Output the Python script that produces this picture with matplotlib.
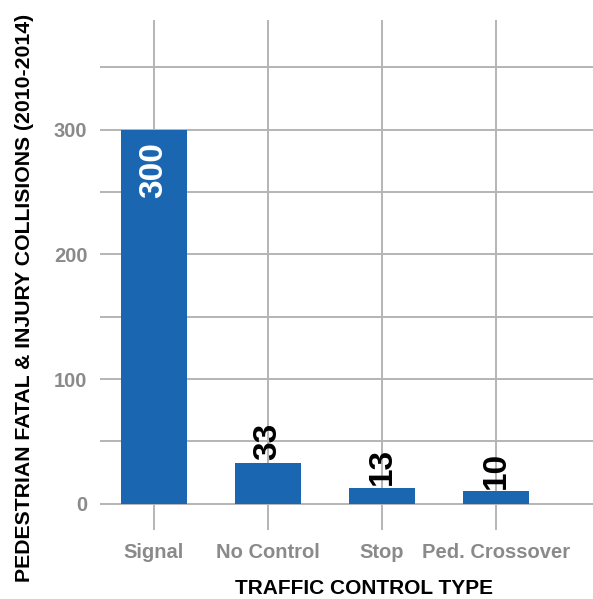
import matplotlib
matplotlib.use("Agg")
import matplotlib.pyplot as plt
import numpy as np

plt.rcParams['font.family'] = ['Liberation Sans', 'DejaVu Sans']

categories = ["Signal", "No Control", "Stop", "Ped. Crossover"]
collisions = [300, 33, 13, 10]
y_ticks = [0, 100, 200, 300]

BAR_COLOR = "#1a66b0"
GRID_COLOR = "#b4b4b4"
TICK_COLOR = "#8a8a8a"

fig = plt.figure(figsize=(5.93, 5.99), dpi=100)
ax = fig.add_axes([100 / 593, 1 - 530 / 599, 493 / 593, 510 / 599])

x = np.arange(len(categories))
bars = ax.bar(x, collisions, width=0.58, color=BAR_COLOR, zorder=3)

ax.set_xlim(-0.47, 3.85)
ax.set_ylim(-21, 388)

# grid: horizontal every 50, vertical through each category
for v in range(0, 351, 50):
    ax.axhline(v, color=GRID_COLOR, lw=1.4, zorder=1)
for xi in x:
    ax.axvline(xi, color=GRID_COLOR, lw=1.4, zorder=1)

for s in ax.spines.values():
    s.set_visible(False)

ax.set_yticks(y_ticks)
ax.set_yticklabels([str(t) for t in y_ticks], fontsize=14.5, fontweight="bold", color=TICK_COLOR)
ax.set_xticks(x)
ax.set_xticklabels(categories, fontsize=14.5, fontweight="bold", color=TICK_COLOR)
ax.tick_params(axis="y", length=0, pad=9)
ax.tick_params(axis="x", length=0, pad=9)

# value labels: inside the tallest bar, above the others
ymax = max(collisions)
for xi, val in zip(x, collisions):
    if val == ymax:
        ax.annotate(str(val), (xi, val), xytext=(0, -9), textcoords="offset points",
                    rotation=90, ha="center", va="top", fontsize=24,
                    fontweight="bold", color="white", zorder=4)
    else:
        ax.annotate(str(val), (xi, val), xytext=(0, 2), textcoords="offset points",
                    rotation=90, ha="center", va="bottom", fontsize=24,
                    fontweight="bold", color="black", zorder=4)

fig.text(25 / 593, 1 - 298 / 599, "PEDESTRIAN FATAL & INJURY COLLISIONS (2010-2014)",
         rotation=90, ha="center", va="center", fontsize=15.3, fontweight="bold", color="black")
fig.text(364 / 593, 1 - 589 / 599, "TRAFFIC CONTROL TYPE",
         ha="center", va="center", fontsize=15, fontweight="bold", color="black")

fig.savefig("out.png", dpi=100)
